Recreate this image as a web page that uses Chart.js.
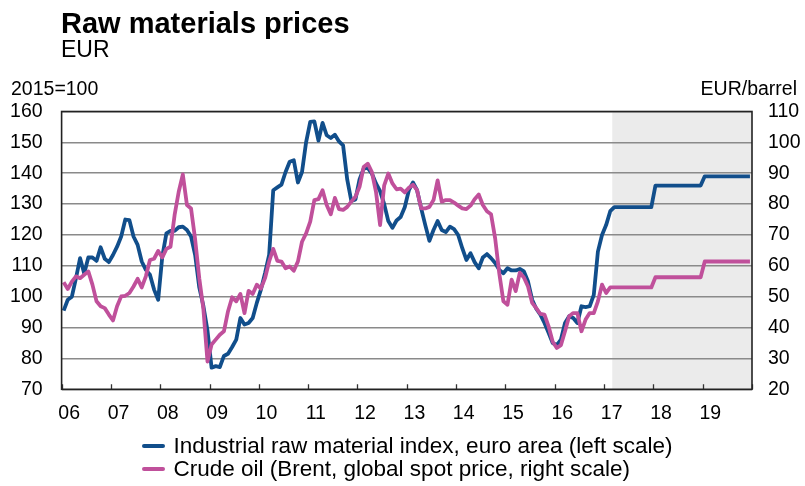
<!DOCTYPE html>
<html>
<head>
<meta charset="utf-8">
<script src="https://cdn.jsdelivr.net/npm/chart.js@4"></script>
<style>
html,body{margin:0;padding:0;background:#fff;}
#wrap{position:relative;width:805px;height:486px;font-family:"Liberation Sans",Arial,sans-serif;color:#000;overflow:hidden;}
#c{position:absolute;left:0;top:0;}
.t{position:absolute;white-space:nowrap;line-height:1;}
.sw{position:absolute;width:23px;height:4px;border-radius:2px;}
</style>
</head>
<body>
<div id="wrap">
<canvas id="c" width="805" height="486"></canvas>
<div class="t" style="left:61px;top:8.5px;font-size:29px;font-weight:bold;">Raw materials prices</div>
<div class="t" style="left:61px;top:38px;font-size:23px;">EUR</div>
<div class="t" style="left:11px;top:78.5px;font-size:19.5px;">2015=100</div>
<div class="t" style="right:8px;top:78.5px;font-size:19.5px;">EUR/barrel</div>
<div class="sw" style="left:142px;top:444px;background:#114e8b;"></div>
<div class="t" style="left:173.5px;top:434.5px;font-size:22.5px;">Industrial raw material index, euro area (left scale)</div>
<div class="sw" style="left:142px;top:467px;background:#c0509b;"></div>
<div class="t" style="left:173.5px;top:457.5px;font-size:22.5px;">Crude oil (Brent, global spot price, right scale)</div>
</div>
<script>
// Monthly values, Jan 2006 - Dec 2019
const startYear = 2006;
const endYear = 2020;
const yearTicks = [2006,2007,2008,2009,2010,2011,2012,2013,2014,2015,2016,2017,2018,2019,2020];
const projectionStart = 2017 + 2/12;

const industrialIndex = [
  95.5, 99, 100, 106, 112.5, 107.5, 112.7, 112.7, 111.6, 116, 112.3, 111.2,          // 2006
  113.5, 116.2, 119.5, 125, 124.8, 119.5, 116.8, 111.4, 108.7, 107.1, 102.3, 99,     // 2007
  113, 120.5, 121.3, 121.3, 122.5, 122.7, 121.6, 119.5, 113.5, 103, 97, 89,          // 2008
  77, 77.5, 77.2, 80.8, 81.5, 83.7, 86.1, 93.1, 91, 91.5, 93.1, 98,                  // 2009
  102.3, 107.6, 113.5, 134.5, 135.4, 136.3, 140.4, 143.7, 144.2, 137, 140.4, 150.1,  // 2010
  156.6, 156.8, 150.6, 156.3, 152.3, 151.4, 152.5, 150.3, 149, 138, 131, 131.5,      // 2011
  138, 141.5, 141.7, 139.9, 136.7, 134.2, 130, 124.5, 122.3, 124.7, 125.8, 129,      // 2012
  134.5, 137, 134.5, 128.6, 123.2, 118.1, 121.6, 124.5, 121.6, 120.9, 122.7, 121.9,  // 2013
  120, 115.7, 111.9, 114.1, 111.2, 109.2, 112.7, 113.8, 112.5, 110.9, 108.7, 107.6,  // 2014
  109.2, 108.5, 108.5, 109, 108.2, 104.9, 99, 96.1, 94.2, 91.5, 88.3, 85,            // 2015
  84.3, 86.1, 91.5, 93.7, 93.1, 91.5, 96.9, 96.6, 96.9, 100.6, 114.6, 120,           // 2016
  123.2, 127.7, 129, 129, 129, 129, 129, 129, 129, 129, 129, 129,                    // 2017
  136, 136, 136, 136, 136, 136, 136, 136, 136, 136, 136, 136,                        // 2018
  139, 139, 139, 139, 139, 139, 139, 139, 139, 139, 139, 139                         // 2019
];

const brentOil = [
  54.7, 52.5, 54.9, 56.6, 56, 57.1, 58.2, 53.9, 48.5, 46.9, 46.3, 44.2,       // 2006
  42.3, 46.9, 50.1, 50.3, 51.2, 53.3, 55.8, 53, 56.6, 61.9, 62.3, 64.8,       // 2007
  62.7, 65.5, 66.2, 76.5, 84, 89.6, 79.7, 78.6, 68.5, 56, 46, 29,             // 2008
  34.5, 36.1, 37.7, 38.8, 45.3, 49.8, 48.5, 50.9, 44.7, 51.9, 50.9, 53.9,     // 2009
  52.6, 56, 61.4, 65.5, 61.6, 61.4, 59.2, 59.8, 58.4, 61.4, 67.8, 70.5,       // 2010
  74.3, 81.3, 81.6, 84.5, 79.7, 76.7, 82, 78.4, 78.1, 79.1, 80.8, 82.4,       // 2011
  85.6, 92, 93.1, 90.4, 84, 73.2, 86.1, 89.9, 86.7, 84.8, 85, 83.8,           // 2012
  85.3, 86.3, 84.5, 78.6, 78.6, 79.1, 81.3, 87.7, 80.8, 81.3, 81.3, 80.5,     // 2013
  79.5, 78.6, 78.4, 79.5, 81.6, 83.1, 79.7, 77.7, 76.7, 68.9, 57.6, 48.5,     // 2014
  47.4, 55.5, 51.8, 57.8, 56.2, 53.3, 48, 46.3, 44.4, 44.2, 40.4, 35.4,       // 2015
  33.4, 34.3, 38.8, 43.7, 44.7, 44.7, 38.8, 42.6, 44.7, 44.7, 48.5, 53.9,     // 2016
  51.2, 53, 53, 53, 53, 53, 53, 53, 53, 53, 53, 53,                           // 2017
  56.3, 56.3, 56.3, 56.3, 56.3, 56.3, 56.3, 56.3, 56.3, 56.3, 56.3, 56.3,     // 2018
  61.4, 61.4, 61.4, 61.4, 61.4, 61.4, 61.4, 61.4, 61.4, 61.4, 61.4, 61.4      // 2019
];

const BLUE = '#114e8b';
const PINK = '#c0509b';
const FONT = '"Liberation Sans", Arial, sans-serif';

const toPoints = arr => arr.map((v, i) => ({ x: startYear + (i + 0.5) / 12, y: v }));

const decor = {
  id: 'decor',
  beforeDraw(chart) {
    const { ctx, chartArea: a, scales } = chart;
    const xs = scales.x.getPixelForValue(projectionStart);
    ctx.save();
    ctx.fillStyle = '#ebebeb';
    ctx.fillRect(xs, a.top, a.right - xs, a.bottom - a.top);
    ctx.restore();
  },
  beforeDatasetsDraw(chart) {
    const { ctx, chartArea: a, scales } = chart;
    ctx.save();
    ctx.strokeStyle = '#333';
    ctx.lineWidth = 1.3;
    ctx.beginPath();
    yearTicks.forEach(y => {
      const px = Math.round(scales.x.getPixelForValue(y)) + 0.5;
      ctx.moveTo(px, a.bottom);
      ctx.lineTo(px, a.bottom - 5);
    });
    ctx.stroke();
    ctx.restore();
  },
  afterDatasetsDraw(chart) {
    const { ctx, chartArea: a } = chart;
    ctx.save();
    ctx.strokeStyle = '#222';
    ctx.lineWidth = 1.6;
    ctx.strokeRect(a.left, a.top, a.right - a.left, a.bottom - a.top);
    ctx.restore();
  }
};

new Chart(document.getElementById('c'), {
  type: 'line',
  data: {
    datasets: [
      { label: 'Crude oil (Brent, global spot price, right scale)', data: toPoints(brentOil), yAxisID: 'y2',
        borderColor: PINK, borderWidth: 3.8, pointRadius: 0, tension: 0, borderJoinStyle: 'round', order: 0 },
      { label: 'Industrial raw material index, euro area (left scale)', data: toPoints(industrialIndex), yAxisID: 'y',
        borderColor: BLUE, borderWidth: 3.8, pointRadius: 0, tension: 0, borderJoinStyle: 'round', order: 1 }
    ]
  },
  options: {
    responsive: false,
    animation: false,
    devicePixelRatio: 1,
    layout: { padding: { top: 111.5, left: 0, right: 0, bottom: 0 } },
    plugins: { legend: { display: false }, tooltip: { enabled: false } },
    scales: {
      x: {
        type: 'linear', min: startYear, max: endYear, position: 'bottom',
        afterBuildTicks: s => { s.ticks = yearTicks.map(v => ({ value: v })); },
        afterFit: s => { s.height = 486 - 389.3; },
        grid: { display: false, drawTicks: false },
        border: { display: false },
        ticks: {
          autoSkip: false, maxRotation: 0, labelOffset: 7.6, padding: 13,
          color: '#000', font: { family: FONT, size: 19.5 },
          callback: v => (v < endYear ? String(v % 100).padStart(2, '0') : '')
        }
      },
      y: {
        position: 'left', min: 70, max: 160,
        afterFit: s => { s.width = 61.6; },
        grid: { color: '#8a8a8a', lineWidth: 1.6, drawTicks: false },
        border: { display: false },
        ticks: { stepSize: 10, padding: 19, color: '#000', font: { family: FONT, size: 19.5 } }
      },
      y2: {
        position: 'right', min: 20, max: 110,
        afterFit: s => { s.width = 53; },
        grid: { display: false, drawTicks: false },
        border: { display: false },
        ticks: { stepSize: 10, padding: 16, color: '#000', font: { family: FONT, size: 19.5 } }
      }
    }
  },
  plugins: [decor]
});
</script>
</body>
</html>
